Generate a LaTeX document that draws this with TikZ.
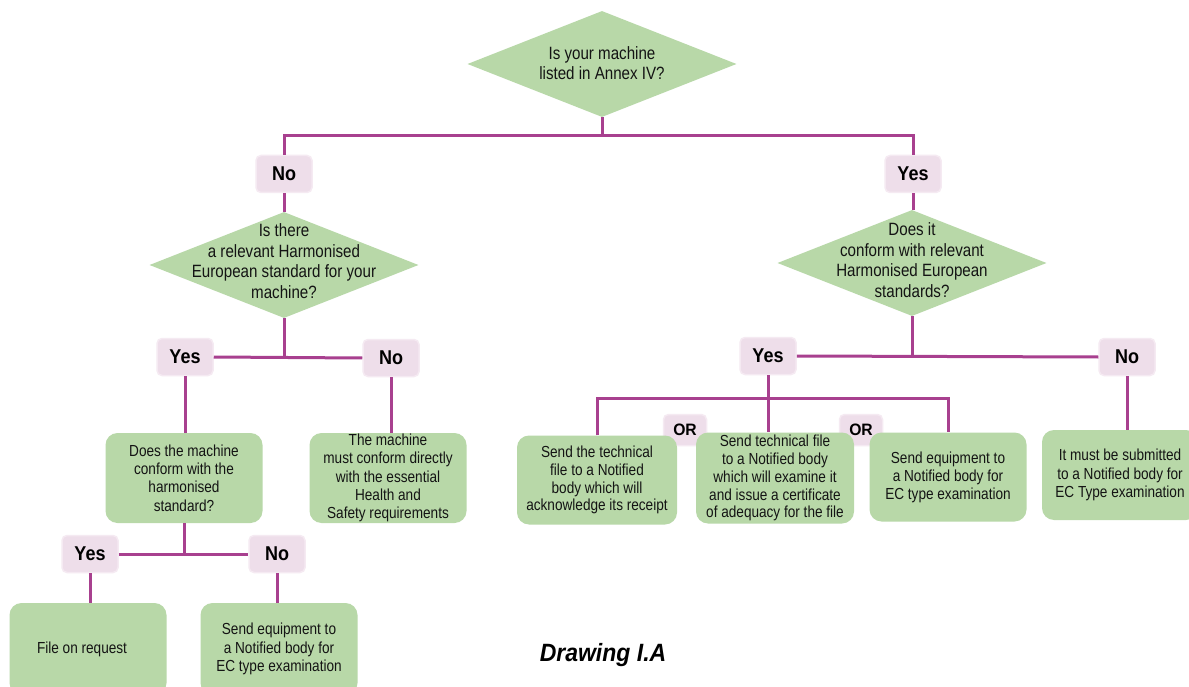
\documentclass[tikz,border=0pt]{standalone}
\usepackage{fontspec}
\setmainfont{Liberation Sans}
\newfontfamily\fA[FakeStretch=0.85]{Liberation Sans}
\newfontfamily\fD[FakeStretch=0.85]{Liberation Sans}
\newfontfamily\fL[FakeStretch=0.90]{Liberation Sans}
\newfontfamily\fO[FakeStretch=0.95]{Liberation Sans}
\newfontfamily\fT[FakeStretch=0.92]{Liberation Sans}
\usetikzlibrary{shapes.geometric}
\definecolor{boxgreen}{RGB}{184,216,168}
\definecolor{lblpink}{RGB}{238,222,234}
\definecolor{lblborder}{RGB}{245,234,242}
\definecolor{linemag}{RGB}{168,64,143}
\definecolor{txt}{RGB}{20,20,20}
\begin{document}
\begin{tikzpicture}[x=1pt,y=-1pt,
  conn/.style={draw=linemag, line width=3pt},
  dia/.style={diamond, fill=boxgreen, inner sep=0pt, minimum width=269pt, minimum height=106pt},
  dtext/.style={align=center, font=\fD\fontsize{17.8}{20.5}\selectfont, text=txt, inner sep=0pt},
  gbox/.style={rounded corners=12pt, fill=boxgreen, minimum width=157pt, minimum height=90pt, align=center, text=txt, inner sep=0pt, font=\fA\fontsize{16}{18.3}\selectfont},
  gboxc/.style={gbox, font=\fA\fontsize{16}{17.9}\selectfont},
  lbl/.style={rounded corners=5pt, fill=lblpink, draw=lblborder, line width=1.5pt, minimum width=56pt, minimum height=37pt, inner sep=0pt, text=black, font=\fL\bfseries\fontsize{20}{22}\selectfont},
  orl/.style={lbl, minimum width=43pt, minimum height=31pt, font=\fO\bfseries\fontsize{16.5}{18}\selectfont},
  captxt/.style={text=black, inner sep=0pt, font=\fT\bfseries\itshape\fontsize{25}{28}\selectfont}
]
\path[fill=white] (0,0) rectangle (1189,687);
\clip (0,0) rectangle (1189,687);

% diamonds
\node[dia] (d1) at (602,64) {};
\node[dtext] (d1t) at (602,63) {Is your machine\\listed in Annex IV?};
\node[dia] (d2) at (284,265) {};
\node[dtext] (d2t) at (284,261) {Is there\\a relevant Harmonised\\European standard for your\\machine?};
\node[dia] (d3) at (912,263) {};
\node[dtext] (d3t) at (912,260) {Does it\\conform with relevant\\Harmonised European\\standards?};

% labels
\node[lbl] (no1) at (284,174) {No};
\node[lbl] (yes1) at (913,174) {Yes};
\node[lbl] (yes2) at (185,357) {Yes};
\node[lbl] (no2) at (391,358) {No};
\node[lbl] (yes3) at (90,554) {Yes};
\node[lbl] (no3) at (277,554) {No};
\node[lbl] (yes4) at (768,356) {Yes};
\node[lbl] (no4) at (1127,357) {No};
\node[orl] (or1) at (685,430) {OR};
\node[orl] (or2) at (861,430) {OR};

% boxes
\node[gbox] (b1) at (184,478) {Does the machine\\conform with the\\harmonised\\standard?};
\node[gbox] (b2) at (388,478) {The machine\\must conform directly\\with the essential\\Health and\\Safety requirements};
\node[gbox, minimum height=92pt] (b3) at (88,649) {File on request\hspace*{12pt}};
\node[gbox, minimum height=92pt] (b4) at (279,649) {Send equipment to\\a Notified body for\\EC type examination};
\node[gboxc, minimum width=160pt, minimum height=89pt] (b5) at (597,480) {Send the technical\\file to a Notified\\body which will\\acknowledge its receipt};
\node[gboxc, minimum width=158pt, minimum height=91pt] (b6) at (775,478) {Send technical file\\to a Notified body\\which will examine it\\and issue a certificate\\of adequacy for the file};
\node[gboxc, minimum width=157pt, minimum height=89pt] (b7) at (948,477) {Send equipment to\\a Notified body for\\EC type examination};
\node[gbox, minimum width=156pt] (b8) at (1120,475) {It must be submitted\\to a Notified body for\\EC Type examination};

\node[captxt] (cap) at (603,655) {Drawing I.A};

% connectors
\coordinate (j1) at (602,136);
\draw[conn] (d1.south) -- (j1);
\draw[conn] (no1.north) |- (j1) -| (yes1.north);
\draw[conn] (no1.south) -- (d2.north);
\draw[conn] (yes1.south) -- (yes1.south |- d3.north);

\draw[conn] (d2.south) -- (d2.south |- yes2.east);
\draw[conn] (yes2.east) -- (no2.west);
\draw[conn] (yes2.south) -- (yes2.south |- b1.north);
\draw[conn] (no2.south) -- (no2.south |- b2.north);

\draw[conn] (b1.south) -- (b1.south |- yes3.east);
\draw[conn] (yes3.east) -- (no3.west);
\draw[conn] (yes3.south) -- (yes3.south |- b3.north);
\draw[conn] (no3.south) -- (no3.south |- b4.north);

\draw[conn] (d3.south) -- (d3.south |- yes4.east);
\draw[conn] (yes4.east) -- (no4.west);
\draw[conn] (yes4.south) -- (yes4.south |- b6.north);
\coordinate (fork) at (768,398);
\draw[conn] (b5.north) |- (fork) -| (b7.north);
\draw[conn] (no4.south) -- (no4.south |- b8.north);
\end{tikzpicture}
\end{document}
